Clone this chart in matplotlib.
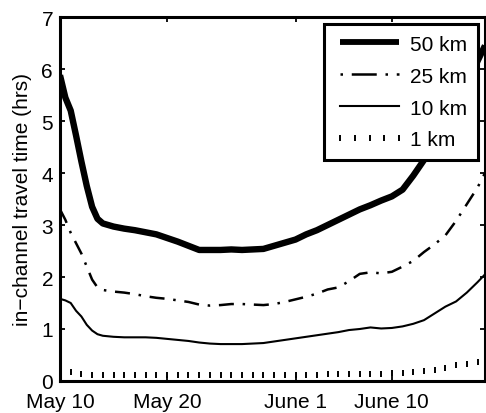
import matplotlib
matplotlib.use("Agg")
import matplotlib.pyplot as plt
from matplotlib.lines import Line2D
import numpy as np

plt.rcParams['font.family'] = ['Liberation Sans', 'DejaVu Sans']

# days since May 10
days = [0, 0.5, 1, 1.5, 2, 2.5, 3, 3.5, 4, 5, 6, 7, 8, 9, 10, 11, 12, 13, 14, 15,
        16, 17, 18, 19, 20, 21, 22, 23, 24, 25, 26, 27, 28, 29, 30, 31, 32, 33,
        34, 35, 36, 37, 38, 39, 39.7]

km50 = [5.88, 5.45, 5.2, 4.72, 4.22, 3.75, 3.35, 3.12, 3.03, 2.97, 2.93, 2.9, 2.86,
        2.82, 2.75, 2.68, 2.6, 2.52, 2.52, 2.52, 2.53, 2.52, 2.53, 2.54, 2.6,
        2.66, 2.72, 2.82, 2.9, 3.0, 3.1, 3.2, 3.3, 3.38, 3.47, 3.55, 3.68, 3.95,
        4.25, 4.5, 4.85, 5.25, 5.7, 6.15, 6.45]

km25 = [3.3, 3.1, 2.85, 2.65, 2.45, 2.2, 1.95, 1.8, 1.75, 1.72, 1.7, 1.67, 1.63,
        1.6, 1.58, 1.55, 1.52, 1.47, 1.45, 1.46, 1.48, 1.48, 1.47, 1.46, 1.48,
        1.52, 1.57, 1.62, 1.68, 1.76, 1.8, 1.92, 2.06, 2.09, 2.07, 2.1, 2.2,
        2.31, 2.48, 2.63, 2.8, 3.08, 3.4, 3.72, 4.0]

km10 = [1.58, 1.55, 1.5, 1.35, 1.24, 1.08, 0.97, 0.9, 0.87, 0.85, 0.84, 0.84,
        0.84, 0.83, 0.81, 0.79, 0.77, 0.74, 0.72, 0.71, 0.71, 0.71, 0.72, 0.73,
        0.76, 0.79, 0.82, 0.85, 0.88, 0.91, 0.94, 0.98, 1.0, 1.03, 1.01, 1.02,
        1.05, 1.1, 1.17, 1.3, 1.43, 1.53, 1.7, 1.9, 2.05]

days1 = list(range(0, 40))
km1 = [0.22, 0.18, 0.13, 0.12, 0.12, 0.12, 0.12, 0.12, 0.12, 0.12, 0.12, 0.12,
       0.12, 0.12, 0.12, 0.12, 0.12, 0.12, 0.12, 0.12, 0.12, 0.12, 0.12, 0.12,
       0.12, 0.13, 0.13, 0.13, 0.13, 0.14, 0.14, 0.15, 0.16, 0.17, 0.19, 0.21,
       0.25, 0.3, 0.33, 0.37]

tick_days = [0, 10, 22, 31]
tick_labels = ['May 10', 'May 20', 'June 1', 'June 10']
labels = ['50 km', '25 km', '10 km', '1 km']

fig = plt.figure(figsize=(4.86, 4.14), dpi=100)
ax = fig.add_axes([60/486, 1-382/414, 425/486, 364/414])

ax.plot(days, km50, color='black', lw=4.6, solid_capstyle='butt',
        solid_joinstyle='round')
ax.plot(days, km25, color='black', lw=1.8, dashes=(6, 3.5, 1, 3.5))
ax.plot(days, km10, color='black', lw=1.5, solid_joinstyle='round')
ax.plot(days1, km1, color='black', ls='none', marker='|', ms=4.5, mew=1.4)

ax.set_xlim(0, 39.7)
ax.set_ylim(0, 7)
ax.set_xticks(tick_days)
ax.set_xticklabels(tick_labels)
ax.set_yticks(range(0, 8))
ax.tick_params(direction='in', length=3.5, width=1.3, top=True, right=True,
               labelsize=15)
ax.tick_params(axis='x', pad=8)
ax.tick_params(axis='y', pad=5)
for s in ax.spines.values():
    s.set_linewidth(2.2)
ax.set_ylabel('in\u2212channel travel time (hrs)', fontsize=15, labelpad=7)

handles = [
    Line2D([], [], color='black', lw=4.2, solid_capstyle='butt'),
    Line2D([], [], color='black', lw=1.8, dashes=(1, 3.5, 10, 3.5)),
    Line2D([], [], color='black', lw=1.5),
    Line2D([], [], color='black', ls='none', marker='|', ms=4.5, mew=1.4),
]
leg = ax.legend(handles, labels, loc='upper right', fontsize=15,
                handlelength=3.4, handletextpad=0.25, labelspacing=0.62,
                borderpad=0.5, borderaxespad=0.35, numpoints=5,
                fancybox=False, framealpha=1, edgecolor='black')
leg.get_frame().set_linewidth(2.2)

fig.savefig('out.png', dpi=100)
